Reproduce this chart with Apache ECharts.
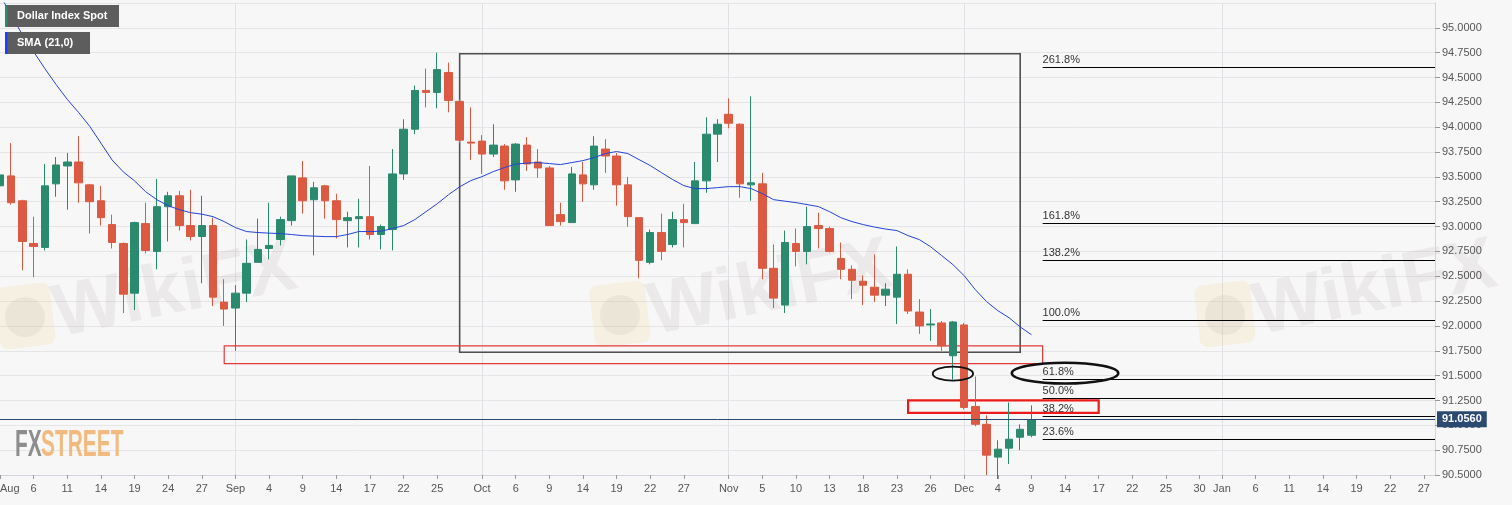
<!DOCTYPE html>
<html><head><meta charset="utf-8">
<script src="https://cdn.jsdelivr.net/npm/echarts@6/dist/echarts.min.js"></script>
<style>html,body{margin:0;padding:0;background:#f7f7f7;}#c{width:1512px;height:505px;}</style>
</head><body><div id="c"></div>
<script>
// ---------- data ----------
const startDate = '2020-08-03';
const endDate = '2021-01-28';
const opens  = [93.41,93.51,93.26,92.83,92.79,93.43,93.61,93.65,93.42,93.26,93.02,92.83,92.33,93.03,92.75,93.20,93.31,93.01,92.90,93.01,92.24,92.18,92.33,92.64,92.78,92.87,93.06,93.49,93.27,93.41,93.26,93.06,93.08,93.10,92.92,92.97,93.53,93.98,94.37,94.35,94.55,94.26,93.85,93.86,93.73,93.81,93.47,93.82,93.65,93.59,93.12,93.04,93.52,93.42,93.78,93.71,93.42,93.09,92.64,92.94,92.82,93.07,93.03,93.46,93.93,94.13,94.03,93.42,93.43,92.58,92.21,92.83,92.75,93.01,92.98,92.68,92.57,92.45,92.39,92.31,92.29,92.52,92.14,92.01,92.03,91.70,92.01,91.19,91.01,90.68,90.77,90.88,90.90];
const closes = [93.52,93.24,92.85,92.80,93.41,93.62,93.65,93.44,93.25,93.09,92.84,92.32,93.04,92.76,93.20,93.31,93.01,92.90,93.01,92.29,92.17,92.33,92.63,92.77,92.81,93.07,93.51,93.26,93.39,93.26,93.07,93.09,93.10,92.92,93.00,93.53,93.98,94.37,94.35,94.58,94.27,93.87,93.84,93.73,93.82,93.46,93.83,93.63,93.59,93.01,93.05,93.53,93.43,93.81,93.71,93.42,93.10,92.66,92.94,92.75,93.07,93.04,93.46,93.93,94.03,94.04,93.43,93.44,92.58,92.28,92.84,92.75,93.00,92.98,92.75,92.57,92.46,92.41,92.31,92.37,92.52,92.15,92.00,92.02,91.80,92.04,91.18,91.01,90.70,90.76,90.86,90.96,91.056];
const lows   = [93.36,93.22,92.56,92.49,92.76,93.30,93.17,93.24,92.93,93.01,92.78,92.13,92.16,92.73,92.57,92.85,92.96,92.86,92.43,92.20,92.00,91.75,92.24,92.64,92.67,92.81,93.01,93.13,92.71,93.08,92.88,92.79,92.79,92.87,92.77,92.76,93.47,93.93,94.20,94.19,94.15,93.84,93.67,93.53,93.70,93.37,93.35,93.56,93.49,93.01,93.01,93.04,93.25,93.37,93.54,93.21,93.00,92.48,92.62,92.66,92.79,92.79,93.03,93.34,93.65,93.99,93.29,93.26,92.47,92.18,92.13,92.60,92.62,92.78,92.74,92.47,92.27,92.21,92.24,92.20,92.02,92.12,91.92,91.85,91.75,91.46,91.16,90.99,90.50,90.46,90.61,90.75,90.88];
const highs  = [94.00,93.84,93.27,93.10,93.63,93.70,93.74,93.91,93.43,93.41,93.12,92.84,93.05,93.24,93.48,93.35,93.36,93.37,93.31,93.09,92.47,92.41,92.87,93.08,93.24,93.10,93.51,93.66,93.45,93.42,93.33,93.15,93.28,93.61,93.02,93.78,94.08,94.42,94.59,94.75,94.65,94.28,94.20,93.92,94.03,93.83,93.84,93.90,93.78,93.61,93.24,93.60,93.65,93.91,93.88,93.74,93.50,93.09,92.97,93.13,93.15,93.23,93.65,94.10,94.08,94.29,94.04,94.31,93.54,92.82,92.96,92.98,93.20,93.14,93.00,92.84,92.61,92.51,92.72,92.43,92.80,92.57,92.27,92.17,92.05,92.05,92.03,91.49,91.10,90.85,91.23,91.01,91.20];
const sma21  = [95.33,95.13,94.93,94.76,94.59,94.43,94.28,94.15,94.01,93.84,93.67,93.55,93.46,93.35,93.27,93.21,93.17,93.14,93.125,93.10,93.05,92.99,92.95,92.94,92.934,92.929,92.92,92.909,92.904,92.899,92.899,92.92,92.95,92.95,92.954,92.98,93.01,93.07,93.15,93.23,93.32,93.40,93.463,93.503,93.553,93.594,93.629,93.639,93.644,93.634,93.624,93.644,93.664,93.694,93.735,93.755,93.735,93.674,93.614,93.543,93.473,93.412,93.382,93.382,93.392,93.402,93.402,93.382,93.332,93.271,93.256,93.241,93.221,93.201,93.15,93.09,93.05,93.02,92.995,92.975,92.96,92.909,92.869,92.798,92.708,92.617,92.506,92.365,92.245,92.154,92.083,91.99,91.912];
const tickDates = ['2020-08-03','2020-08-06','2020-08-11','2020-08-14','2020-08-19','2020-08-24','2020-08-27','2020-09-01','2020-09-04','2020-09-09','2020-09-14','2020-09-17','2020-09-22','2020-09-25','2020-10-01','2020-10-06','2020-10-09','2020-10-14','2020-10-19','2020-10-22','2020-10-27','2020-11-02','2020-11-05','2020-11-10','2020-11-13','2020-11-18','2020-11-23','2020-11-26','2020-12-01','2020-12-04','2020-12-09','2020-12-14','2020-12-17','2020-12-22','2020-12-25','2020-12-30','2021-01-01','2021-01-06','2021-01-11','2021-01-14','2021-01-19','2021-01-22','2021-01-27'];
const tickTexts = ['Aug','6','11','14','19','24','27','Sep','4','9','14','17','22','25','Oct','6','9','14','19','22','27','Nov','5','10','13','18','23','26','Dec','4','9','14','17','22','25','30','Jan','6','11','14','19','22','27'];
const monthStarts = ['2020-09-01','2020-10-01','2020-11-02','2020-12-01','2021-01-01'];
const fibLow = 90.49, fibHigh = 92.06;
const fibRatios = [0, 0.236, 0.382, 0.5, 0.618, 1, 1.382, 1.618, 2.618];
const fibTexts = ['0.0%','23.6%','38.2%','50.0%','61.8%','100.0%','138.2%','161.8%','261.8%'];
const fibStart = '2020-12-10';
const lastPrice = 91.056;
const boxDates  = [['2020-09-29','2020-12-08'],['2020-08-31','2020-12-10'],['2020-11-24','2020-12-17']];
const boxPrices = [[94.74,91.735],[91.80,91.62],[91.25,91.125]];
const ellipseDates  = ['2020-11-30','2020-12-14'];
const ellipsePrices = [91.52,91.525];
const ellipseHalfDays = [1.8,4.75];
const ellipseHalfPrice = [0.07,0.105];

// ---------- build ----------
const categories = [];
for (let d = new Date(startDate + 'T00:00:00Z'); d <= new Date(endDate + 'T00:00:00Z'); d.setUTCDate(d.getUTCDate() + 1)) {
  const w = d.getUTCDay();
  if (w !== 0 && w !== 6) categories.push(d.toISOString().slice(0, 10));
}
const tickMap = {}; tickDates.forEach((d, i) => tickMap[d] = tickTexts[i]);
const monthSet = new Set(monthStarts);
const candles = opens.map((o, i) => [o, closes[i], lows[i], highs[i]]);
const FONT = 'Liberation Sans, Arial, sans-serif';
const UP = '#2a8a6d', DOWN = '#db5a41';
const boxStyles = [
  {borderColor:'#505050', borderWidth:1.6},
  {borderColor:'#e33b3b', borderWidth:1.2},
  {borderColor:'#ec1a1a', borderWidth:2.2}
];

const chart = echarts.init(document.getElementById('c'), null, {renderer:'canvas'});
chart.setOption({
  animation:false,
  backgroundColor:'#f7f7f7',
  grid:{left:0, right:77, top:3, bottom:30, containLabel:false, outerBoundsMode:'none'},
  xAxis:{
    type:'category', data:categories, boundaryGap:false,
    axisLine:{show:true, lineStyle:{color:'#d4d4dc'}},
    axisTick:{show:true, interval:(i, v) => v in tickMap, length:4, lineStyle:{color:'#999'}},
    axisLabel:{interval:(i, v) => v in tickMap, formatter:v => tickMap[v] || '', color:'#555', fontSize:11, fontFamily:FONT, margin:8, alignMinLabel:'left'},
    splitLine:{show:true, interval:(i, v) => monthSet.has(v), lineStyle:{color:'#e0e0e6'}}
  },
  yAxis:{
    type:'value', position:'right', min:90.5, max:95.25, interval:0.25, scale:true,
    axisLine:{show:true, lineStyle:{color:'#d4d4dc'}},
    axisTick:{show:true, length:5, lineStyle:{color:'#999'}},
    axisLabel:{formatter:v => v.toFixed(4), color:'#555', fontSize:11, fontFamily:FONT, margin:7, showMaxLabel:false},
    splitLine:{show:true, lineStyle:{color:'#e5e5e8'}}
  },
  series:[
    {
      type:'candlestick', data:candles, barWidth:8, clip:false,
      itemStyle:{color:UP, color0:DOWN, borderColor:UP, borderColor0:DOWN, borderWidth:1},
      markArea:{
        silent:true, label:{show:false},
        data: boxDates.map((d, k) => [
          {coord:[d[0], boxPrices[k][0]], itemStyle:Object.assign({color:'rgba(0,0,0,0)'}, boxStyles[k])},
          {coord:[d[1], boxPrices[k][1]]}
        ])
      },
      markLine:{
        silent:true, symbol:['none','none'],
        lineStyle:{color:'#000', width:1.2, type:'solid'},
        label:{show:true, position:'insideStartTop', formatter:'{b}', color:'#333', fontSize:11, fontFamily:FONT, distance:[0,2]},
        data: fibRatios.map((r, k) => {
          const v = fibLow + r * (fibHigh - fibLow);
          return [{name:fibTexts[k], coord:[fibStart, v]}, {coord:[endDate, v]}];
        })
      }
    },
    {
      type:'line', data:sma21, symbol:'none', smooth:false,
      lineStyle:{color:'#2443d8', width:1},
      markLine:{
        silent:true, symbol:['none','none'],
        lineStyle:{color:'#2b4a72', width:1, type:'solid'},
        label:{show:true, position:'end', formatter:lastPrice.toFixed(4), backgroundColor:'#2b4a72', color:'#fff', fontWeight:'bold', fontSize:11, fontFamily:FONT, padding:[3,5,2,5], distance:2},
        data:[{yAxis:lastPrice}]
      }
    }
  ]
});

// ---------- annotations positioned through the chart's own axes ----------
const els = [];
const wmText = 'rgba(175,165,165,0.17)', wmLogo = 'rgba(240,205,120,0.17)';
[[175,292],[770,290],[1375,290]].forEach(p => {
  els.push({type:'rect', z:0, x:p[0]-150, y:p[1]+25, rotation:0.12, shape:{x:-28,y:-32,width:56,height:62,r:8}, style:{fill:wmLogo}});
  els.push({type:'circle', z:0, x:p[0]-150, y:p[1]+25, shape:{cx:0,cy:0,r:20}, style:{fill:'rgba(180,170,170,0.15)'}});
  els.push({type:'text', z:0, x:p[0], y:p[1], rotation:0.2, style:{text:'WikiFX', font:'bold 74px ' + FONT, fill:wmText, align:'center', verticalAlign:'middle'}});
});
els.push({type:'group', z:1, x:15, y:446, scaleX:0.58, children:[
  {type:'text', x:0, y:0, style:{text:'FX', font:'bold 36px ' + FONT, fill:'#8d8d8d', verticalAlign:'middle'}},
  {type:'text', x:45, y:0, style:{text:'STREET', font:'bold 36px ' + FONT, fill:'#f1bb7f', verticalAlign:'middle'}}
]});
// legend tags
els.push({type:'rect', z:100, shape:{x:5,y:5,width:114,height:22}, style:{fill:'#5d5d5d'}});
els.push({type:'rect', z:101, shape:{x:5,y:5,width:2.5,height:22}, style:{fill:UP}});
els.push({type:'text', z:101, x:17, y:16, style:{text:'Dollar Index Spot', font:'bold 11px ' + FONT, fill:'#fff', verticalAlign:'middle'}});
els.push({type:'rect', z:100, shape:{x:5,y:32,width:85,height:22}, style:{fill:'#5d5d5d'}});
els.push({type:'rect', z:101, shape:{x:5,y:32,width:2.5,height:22}, style:{fill:'#1f3cff'}});
els.push({type:'text', z:101, x:17, y:43, style:{text:'SMA (21,0)', font:'bold 11px ' + FONT, fill:'#fff', verticalAlign:'middle'}});
// ellipses
ellipseDates.forEach((d, k) => {
  const i = categories.indexOf(d);
  const c = chart.convertToPixel({gridIndex:0}, [i, ellipsePrices[k]]);
  const c2 = chart.convertToPixel({gridIndex:0}, [i + 1, ellipsePrices[k] + ellipseHalfPrice[k]]);
  const step = c2[0] - c[0];
  els.push({type:'ellipse', z:50, shape:{cx:c[0], cy:c[1], rx:ellipseHalfDays[k]*step, ry:c[1]-c2[1]}, style:{fill:'none', stroke:'#111', lineWidth:k ? 2.5 : 1.8}});
});
chart.setOption({graphic:{elements:els}});
</script>
</body></html>
